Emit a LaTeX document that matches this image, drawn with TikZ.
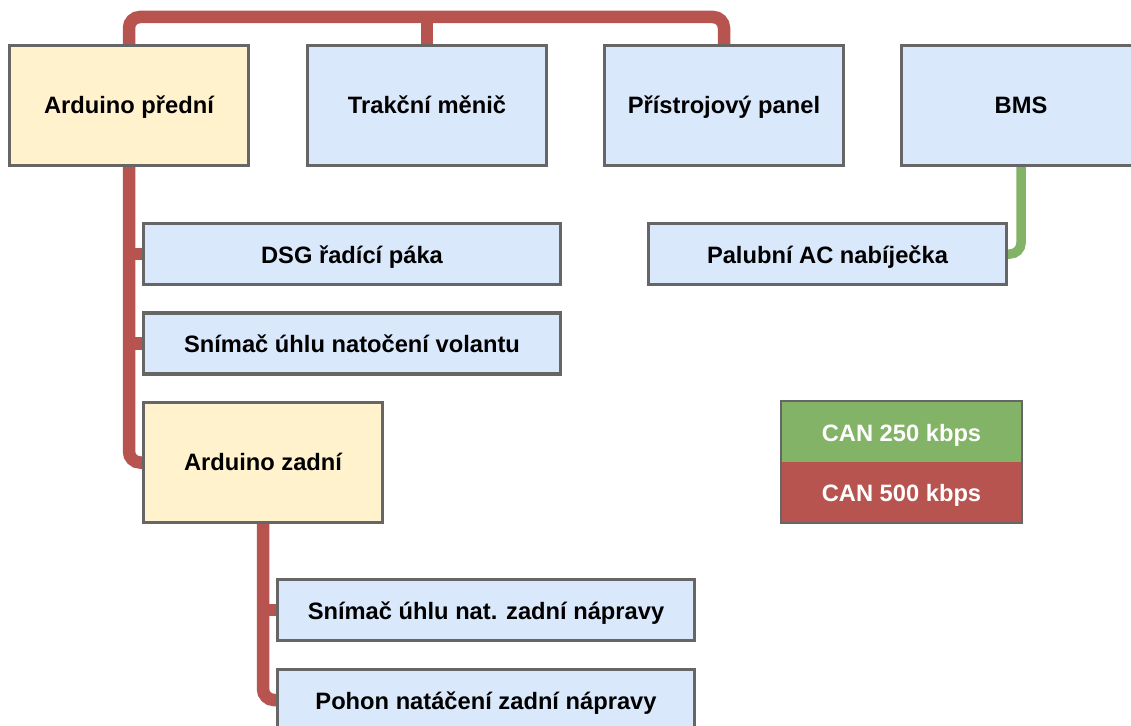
\documentclass[tikz,border=0pt]{standalone}
\usepackage{fontspec}
\setmainfont{Liberation Sans}
\definecolor{boxblue}{HTML}{DAE8FC}
\definecolor{boxyellow}{HTML}{FFF2CC}
\definecolor{boxline}{HTML}{666666}
\definecolor{canred}{HTML}{B85450}
\definecolor{cangreen}{HTML}{82B366}
\begin{document}
\begin{tikzpicture}[x=1pt,y=-1pt,
  ecu/.style={draw=boxline, line width=2.2pt, inner sep=0pt,
    font=\fontsize{23.7}{28}\selectfont\bfseries, text=black, text depth=0pt},
  bigbox/.style={ecu, minimum width=238pt, minimum height=119pt, text height=15.5pt},
  widebox/.style={ecu, minimum width=416pt, minimum height=60pt, text height=18pt},
  bluebox/.style={fill=boxblue},
  yellowbox/.style={fill=boxyellow},
  legendbox/.style={inner sep=0pt, minimum width=241pt, minimum height=60.5pt,
    font=\fontsize{23.7}{28}\selectfont\bfseries, text=white,
    text height=19pt, text depth=0pt},
  bus500/.style={draw=canred, line width=12.5pt, rounded corners=11pt},
  bus250/.style={draw=cangreen, line width=9.5pt, rounded corners=11pt},
  tee500/.style={draw=canred, line width=12.5pt}
]
\useasboundingbox (0,0) rectangle (1131,725);

\coordinate (topline) at (0,17);

% boxes
\node[bigbox, yellowbox] (af) at (129,105.5) {Arduino přední};
\node[bigbox, bluebox] (tm) at (427,105.5) {Trakční měnič};
\node[bigbox, bluebox] (pp) at (724,105.5) {Přístrojový panel};
\node[bigbox, bluebox] (bms) at (1021,105.5) {BMS};
\node[widebox, bluebox] (dsg) at (352,254) {DSG řadící páka};
\node[widebox, bluebox] (snv) at (352,343.5) {Snímač úhlu natočení volantu};
\node[bigbox, yellowbox] (az) at (263,462.5) {Arduino zadní};
\node[widebox, bluebox, minimum width=357pt] (pac) at (827.5,254) {Palubní AC nabíječka};
\node[widebox, bluebox] (snz) at (486,610) {Snímač úhlu nat. zadní nápravy};
\node[widebox, bluebox] (poh) at (486,700) {Pohon natáčení zadní nápravy};

% legend
\node[legendbox, fill=cangreen] (lg250) at (901.5,431.5) {CAN 250 kbps};
\node[legendbox, fill=canred, anchor=north] (lg500) at (lg250.south) {CAN 500 kbps};
\draw[boxline, line width=2.2pt] (lg250.north west) rectangle (lg500.south east);

% buses
\draw[bus500] (af.north) -- (af.north |- topline) -- (pp.north |- topline) -- (pp.north);
\draw[bus500] (tm.north) -- (tm.north |- topline);
\draw[bus500] (af.south) |- (az.west);
\draw[tee500] (af.south |- dsg.west) -- (dsg.west);
\draw[tee500] (af.south |- snv.west) -- (snv.west);
\draw[bus500] (az.south) |- (poh.west);
\draw[tee500] (az.south |- snz.west) -- (snz.west);
\draw[bus250] (bms.south) |- (pac.east);

% redraw box borders over connector ends
\foreach \n in {af,tm,pp,bms,dsg,snv,az,pac,snz,poh}{
  \draw[boxline, line width=2.2pt] (\n.north west) rectangle (\n.south east);
}
\end{tikzpicture}
\end{document}
